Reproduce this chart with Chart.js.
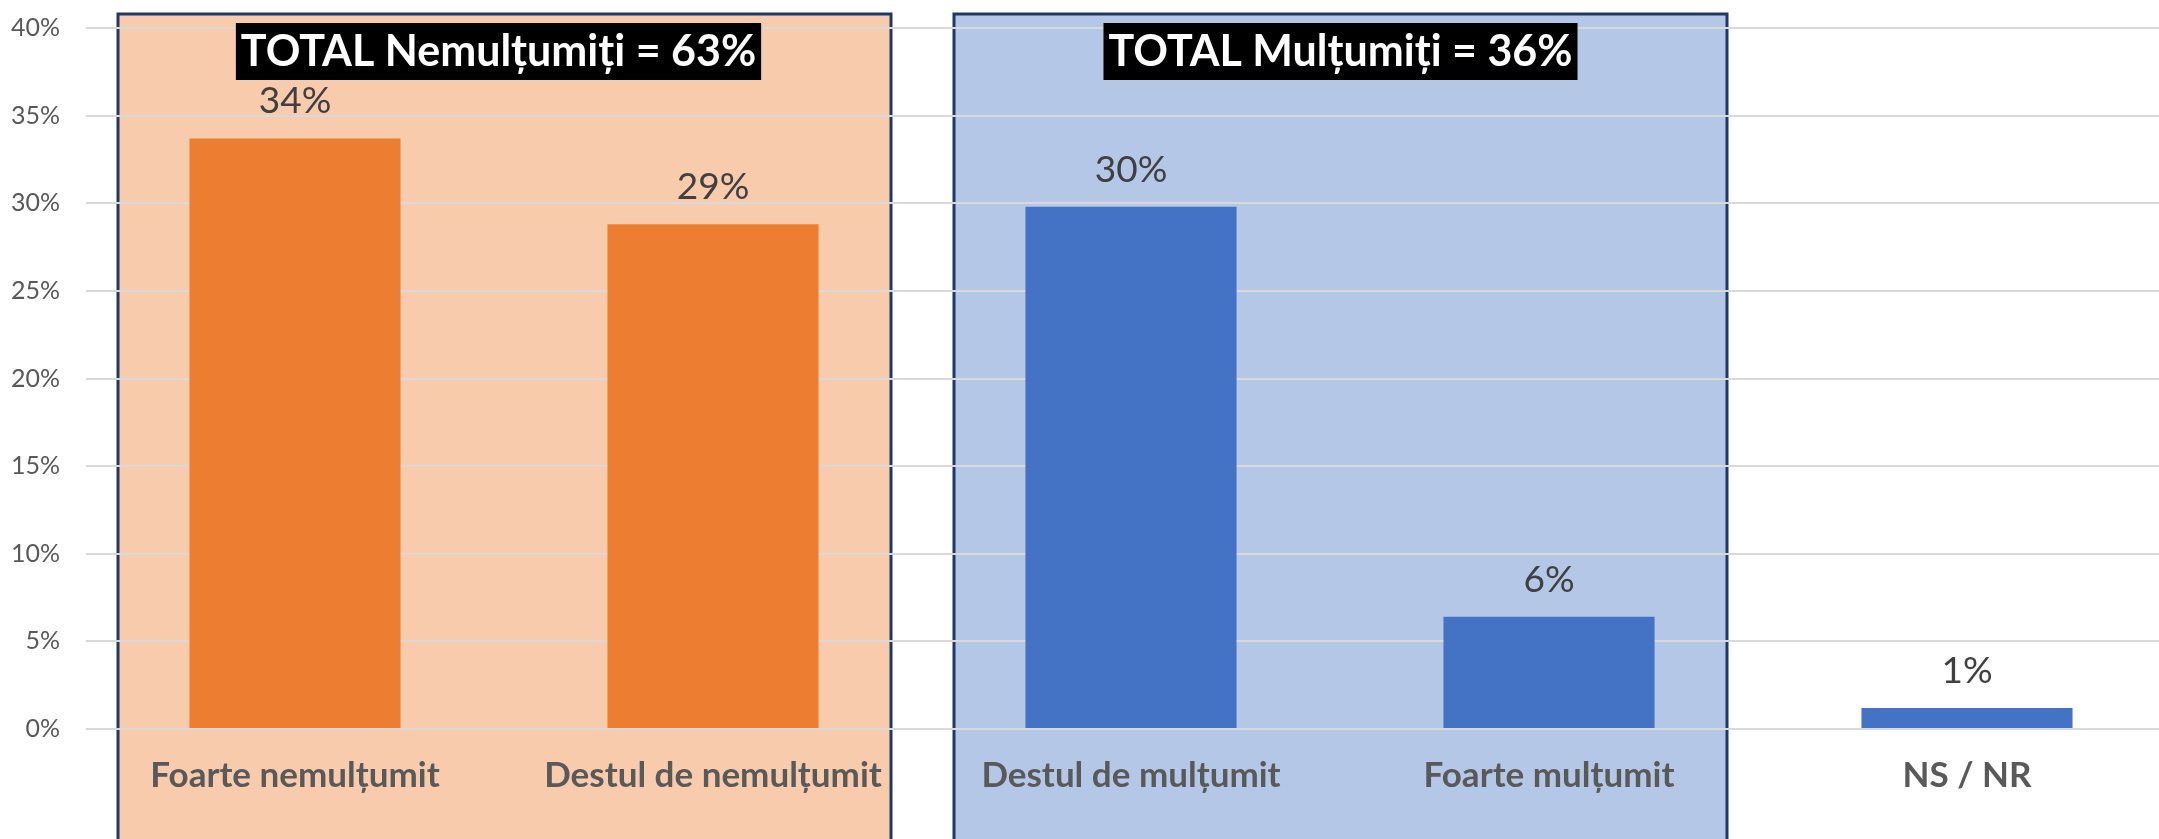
<!DOCTYPE html>
<html>
<head>
<meta charset="utf-8">
<script src="https://cdn.jsdelivr.net/npm/chart.js@4/dist/chart.umd.min.js"></script>
<style>
  html, body { margin: 0; padding: 0; overflow: hidden; background: #fff; }
  #wrap { width: 2176px; height: 839px; }
</style>
</head>
<body>
<div id="wrap"><canvas id="satisfactionChart"></canvas></div>
<script>
// date grafic
const categories = ['Foarte nemulțumit', 'Destul de nemulțumit', 'Destul de mulțumit', 'Foarte mulțumit', 'NS / NR'];
const values = [33.7, 28.8, 29.8, 6.4, 1.2];
const barColors = ['#ED7D31', '#ED7D31', '#4472C4', '#4472C4', '#4472C4'];
const groupTitles = ['TOTAL Nemulțumiți = 63%', 'TOTAL Mulțumiți = 36%'];
const groupFrom = [0, 2];
const groupTo = [1, 3];
const groupFills = ['#F8CBAD', '#B4C7E7'];

function panelBox(chart, i) {
  const x = chart.scales.x;
  const cw = x.getPixelForValue(1) - x.getPixelForValue(0);
  return {
    left: x.getPixelForValue(groupFrom[i]) - cw / 2 + 32,
    right: x.getPixelForValue(groupTo[i]) + cw / 2 - 31,
    top: chart.chartArea.top - 14,
    bottom: chart.height + 5
  };
}

// panourile colorate din spate
const panelsPlugin = {
  id: 'panels',
  beforeDraw(chart) {
    const ctx = chart.ctx;
    ctx.save();
    for (let i = 0; i < groupTitles.length; i++) {
      const p = panelBox(chart, i);
      ctx.fillStyle = groupFills[i];
      ctx.fillRect(p.left, p.top, p.right - p.left, p.bottom - p.top);
      ctx.strokeStyle = '#1F3864';
      ctx.lineWidth = 3;
      ctx.strokeRect(p.left, p.top, p.right - p.left, p.bottom - p.top);
    }
    ctx.restore();
  },
  afterDatasetsDraw(chart) {
    const ctx = chart.ctx;
    ctx.save();
    // etichete valori
    const meta = chart.getDatasetMeta(0);
    ctx.font = '37px Lato';
    ctx.fillStyle = '#404040';
    ctx.textAlign = 'center';
    ctx.textBaseline = 'middle';
    meta.data.forEach(function (bar, idx) {
      ctx.fillText(Math.round(values[idx]) + '%', bar.x, bar.y - 37);
    });
    // titluri TOTAL
    ctx.font = 'bold 43px Lato';
    for (let i = 0; i < groupTitles.length; i++) {
      const p = panelBox(chart, i);
      const cx = (p.left + p.right) / 2 - (i === 0 ? 6 : 0);
      const w = ctx.measureText(groupTitles[i]).width + 10;
      ctx.fillStyle = '#000';
      ctx.fillRect(cx - w / 2, 23, w, 57);
      ctx.fillStyle = '#fff';
      ctx.fillText(groupTitles[i], cx, 52);
    }
    ctx.restore();
  }
};

const data = {
  labels: categories,
  datasets: [{
    data: values,
    backgroundColor: barColors,
    categoryPercentage: 1,
    barPercentage: 0.505
  }]
};

const config = {
  type: 'bar',
  data,
  options: {
    responsive: true,
    maintainAspectRatio: false,
    animation: false,
    layout: { padding: { top: 28, left: 0, right: 0, bottom: 0 } },
    plugins: {
      legend: { display: false },
      tooltip: { enabled: false }
    },
    scales: {
      x: {
        grid: { display: false },
        border: { display: false },
        ticks: {
          font: { family: 'Lato', size: 35, weight: 'bold' },
          color: '#595959',
          padding: 18,
          maxRotation: 0
        },
        afterFit(scale) { scale.height = 110; }
      },
      y: {
        min: 0,
        max: 40,
        grid: { color: '#D9D9D9', lineWidth: 2, drawTicks: false },
        border: { display: false },
        ticks: {
          stepSize: 5,
          font: { family: 'Lato', size: 25 },
          color: '#595959',
          padding: 26,
          callback: function (v) { return v + '%'; }
        },
        afterFit(scale) {
          scale.width = 86;
          scale.paddingTop = 10;
          scale.paddingBottom = 10;
        }
      }
    }
  },
  plugins: [panelsPlugin]
};

new Chart(document.getElementById('satisfactionChart'), config);
</script>
</body>
</html>
